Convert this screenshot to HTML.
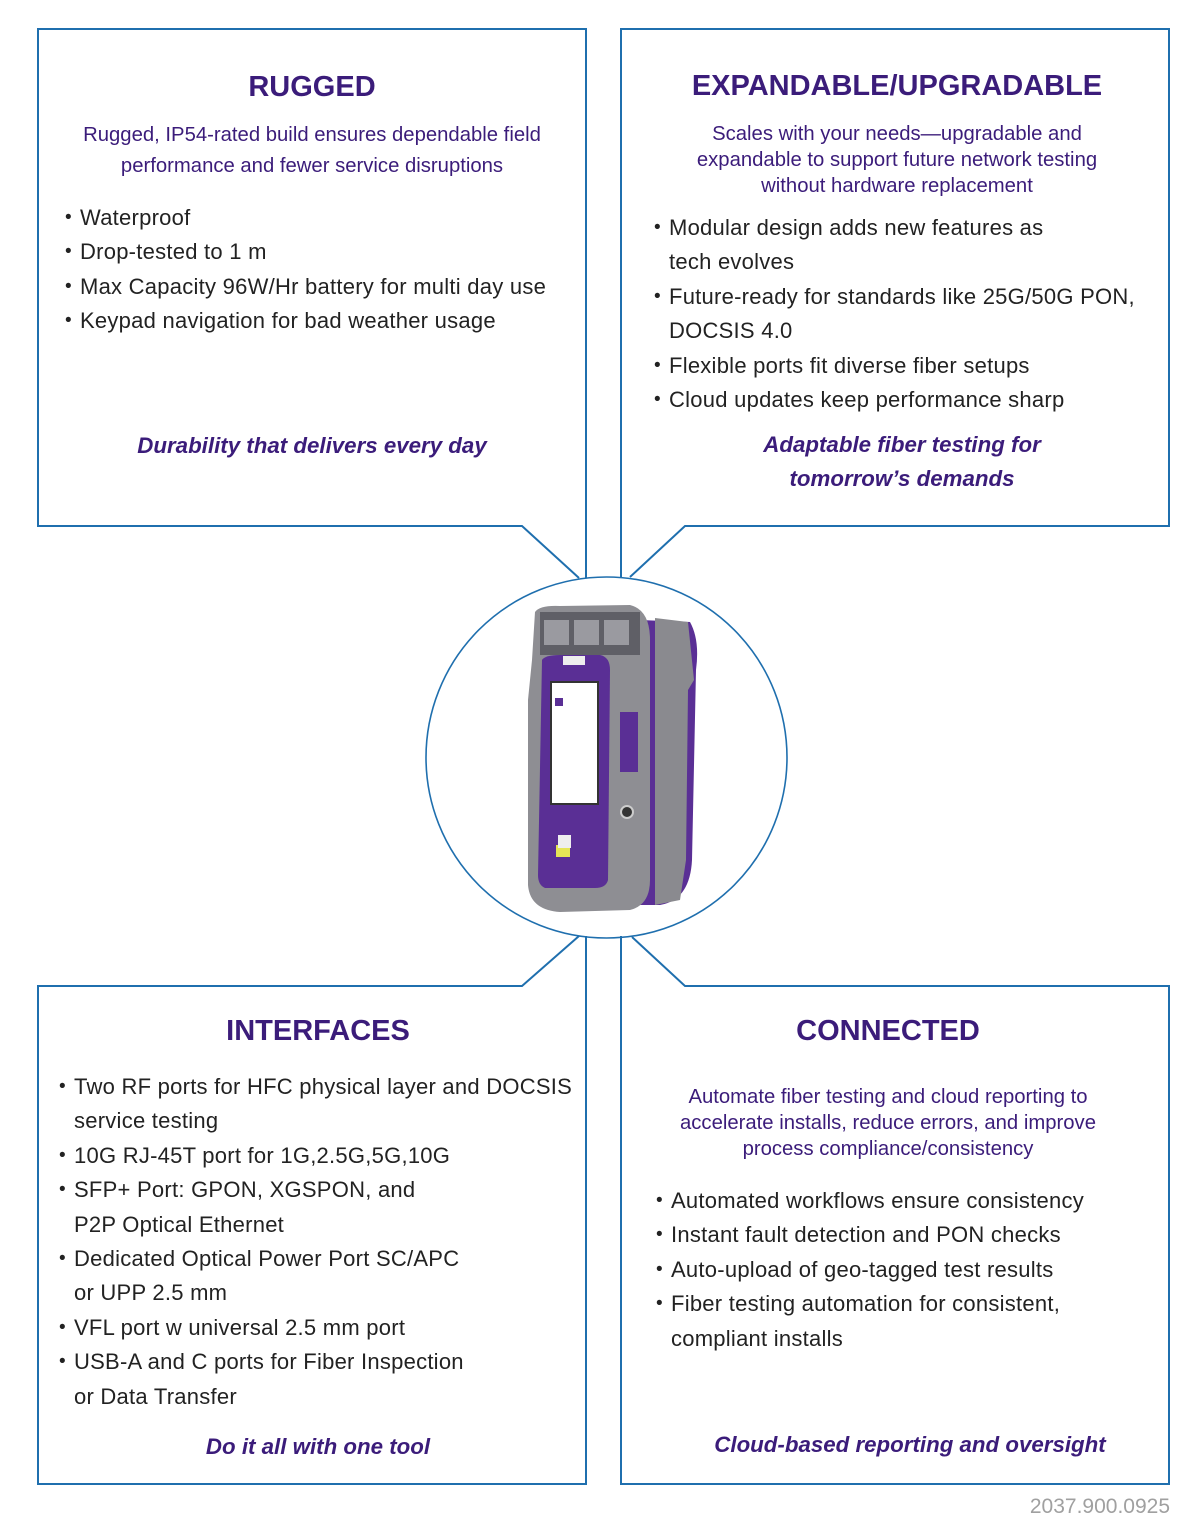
<!DOCTYPE html>
<html><head><meta charset="utf-8"><style>
body{margin:0;width:1200px;height:1538px;background:#fff;position:relative;overflow:hidden;font-family:"Liberation Sans",sans-serif}
.t{position:absolute;white-space:nowrap}
.h{font-weight:bold;font-size:29px;color:#3b1c7a;transform:translateX(-50%);line-height:34px}
.s{font-size:20.3px;color:#3b1c7a;transform:translateX(-50%);text-align:center;line-height:26px}
.g{font-style:italic;font-weight:bold;font-size:22.3px;color:#3b1c7a;transform:translateX(-50%);text-align:center;line-height:34px}
.b{font-size:22px;letter-spacing:0.25px;color:#222;line-height:34.4px}
.b div{position:relative}
.b .d:before{content:"•";position:absolute;left:-15px;font-size:19px}
</style></head><body>
<svg width="1200" height="1538" style="position:absolute;left:0;top:0">
<g fill="none" stroke="#1f6fae" stroke-width="2">
<path d="M586 578 V29 H38 V526 H522 L579 578"/>
<path d="M621 578 V29 H1169 V526 H685 L630 577"/>
<path d="M586 936 V1484 H38 V986 H522 L579 936"/>
<path d="M621 936 V1484 H1169 V986 H685 L632 937"/>
<circle cx="606.5" cy="757.5" r="180.5" stroke-width="1.6"/>
</g>
<g>
<path d="M640 620 L690 622 Q700 640 696 670 L692 860 Q690 900 660 905 L640 905 Z" fill="#5a2f95"/>
<path d="M655 618 L688 622 L694 680 L688 690 L686 860 L680 900 L655 905 Z" fill="#8a8a8f"/>
<path d="M535 612 Q540 605 560 606 L630 605 Q650 610 650 640 L650 880 Q650 905 630 910 L560 912 Q530 910 528 885 L528 700 Q530 680 532 660 Z" fill="#8e8e93"/>
<path d="M540 612 L640 612 L640 655 L540 655 Z" fill="#5f5f66"/>
<path d="M544 620 h25 v25 h-25z M574 620 h25 v25 h-25z M604 620 h25 v25 h-25z" fill="#9a9aa0"/>
<path d="M542 660 Q545 655 560 655 L600 655 Q610 657 610 670 L608 880 Q606 888 595 888 L545 888 Q538 885 538 875 Z" fill="#5a2f95"/>
<rect x="563" y="656" width="22" height="9" fill="#eee"/>
<rect x="551" y="682" width="47" height="122" fill="#fff" stroke="#333" stroke-width="2"/>
<rect x="555" y="698" width="8" height="8" fill="#5a2f95"/>
<rect x="556" y="845" width="14" height="12" fill="#e5e556"/>
<rect x="558" y="835" width="13" height="13" fill="#eee"/>
<rect x="620" y="712" width="18" height="60" fill="#5a2f95"/>
<circle cx="627" cy="812" r="6" fill="#333" stroke="#ccc" stroke-width="2"/>
<rect x="555" y="875" width="10" height="10" fill="#5a2f95"/>
</g>
</svg>

<div class="t h" style="left:312px;top:70px">RUGGED</div>
<div class="t s" style="left:312px;top:120px;line-height:31px">Rugged, IP54-rated build ensures dependable field<br>performance and fewer service disruptions</div>
<div class="t b" style="left:80px;top:201px"><div class="d">Waterproof</div><div class="d">Drop-tested to 1 m</div><div class="d">Max Capacity 96W/Hr battery for multi day use</div><div class="d">Keypad navigation for bad weather usage</div></div>
<div class="t g" style="left:312px;top:429px">Durability that delivers every day</div>

<div class="t h" style="left:897px;top:69px">EXPANDABLE/UPGRADABLE</div>
<div class="t s" style="left:897px;top:121px">Scales with your needs—upgradable and<br>expandable to support future network testing<br>without hardware replacement</div>
<div class="t b" style="left:669px;top:211px"><div class="d">Modular design adds new features as</div><div>tech evolves</div><div class="d">Future-ready for standards like 25G/50G PON,</div><div>DOCSIS 4.0</div><div class="d">Flexible ports fit diverse fiber setups</div><div class="d">Cloud updates keep performance sharp</div></div>
<div class="t g" style="left:902px;top:428px">Adaptable fiber testing for<br>tomorrow’s demands</div>

<div class="t h" style="left:318px;top:1014px">INTERFACES</div>
<div class="t b" style="left:74px;top:1070px"><div class="d">Two RF ports for HFC physical layer and DOCSIS</div><div>service testing</div><div class="d">10G RJ-45T port for 1G,2.5G,5G,10G</div><div class="d">SFP+ Port: GPON, XGSPON, and</div><div>P2P Optical Ethernet</div><div class="d">Dedicated Optical Power Port SC/APC</div><div>or UPP 2.5 mm</div><div class="d">VFL port w universal 2.5 mm port</div><div class="d">USB-A and C ports for Fiber Inspection</div><div>or Data Transfer</div></div>
<div class="t g" style="left:318px;top:1430px">Do it all with one tool</div>

<div class="t h" style="left:888px;top:1014px">CONNECTED</div>
<div class="t s" style="left:888px;top:1084px">Automate fiber testing and cloud reporting to<br>accelerate installs, reduce errors, and improve<br>process compliance/consistency</div>
<div class="t b" style="left:671px;top:1184px"><div class="d">Automated workflows ensure consistency</div><div class="d">Instant fault detection and PON checks</div><div class="d">Auto-upload of geo-tagged test results</div><div class="d">Fiber testing automation for consistent,</div><div>compliant installs</div></div>
<div class="t g" style="left:910px;top:1428px">Cloud-based reporting and oversight</div>

<div class="t" style="right:30px;top:1495px;font-size:21px;color:#a0a0a0">2037.900.0925</div>
</body></html>
